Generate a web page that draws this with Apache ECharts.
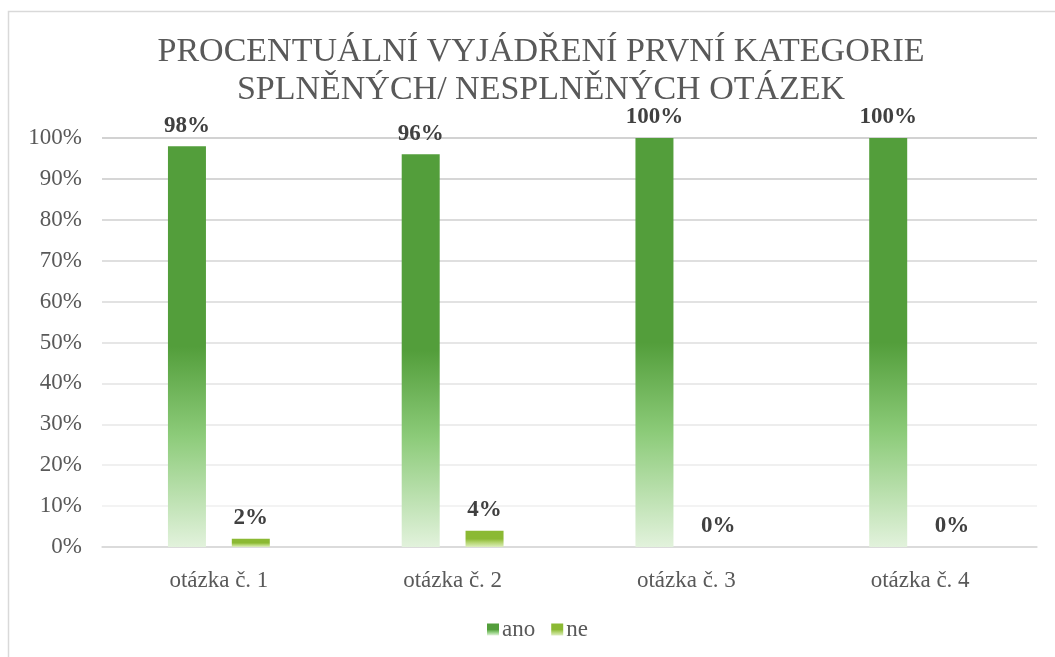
<!DOCTYPE html>
<html>
<head>
<meta charset="utf-8">
<script src="https://cdn.jsdelivr.net/npm/echarts@6/dist/echarts.min.js"></script>
<style>
  html, body { margin: 0; padding: 0; background: #fff; }
  #chart { width: 1055px; height: 657px; }
</style>
</head>
<body>
<div id="chart"></div>
<script>
// data
const categories = ['otázka č. 1', 'otázka č. 2', 'otázka č. 3', 'otázka č. 4'];
const seriesNames = ['ano', 'ne'];
const anoValues = [98, 96, 100, 100];
const neValues = [2, 4, 0, 0];
const yTicks = [0, 10, 20, 30, 40, 50, 60, 70, 80, 90, 100];

const FONT = 'Liberation Serif';

function fade(top, bottom, mid) {
  return new echarts.graphic.LinearGradient(0, 0, 0, 1, [
    { offset: 0, color: top },
    { offset: 0.5, color: top },
    { offset: 0.72, color: mid },
    { offset: 1, color: bottom }
  ]);
}

const chart = echarts.init(document.getElementById('chart'));

const labelStyle = {
  show: true,
  position: 'top',
  distance: 9,
  fontFamily: FONT,
  fontSize: 23,
  fontWeight: 'bold',
  color: '#404040',
  formatter: (p) => p.value + '%'
};

chart.setOption({
  animation: false,
  graphic: [{
    type: 'rect',
    shape: { x: 8.5, y: 11.5, width: 1100, height: 700 },
    style: { fill: 'none', stroke: '#d9d9d9', lineWidth: 1.5 },
    silent: true
  }],
  title: {
    text: 'PROCENTUÁLNÍ VYJÁDŘENÍ PRVNÍ KATEGORIE\nSPLNĚNÝCH/ NESPLNĚNÝCH OTÁZEK',
    left: 536,
    textAlign: 'center',
    top: 28,
    textStyle: {
      fontFamily: FONT,
      fontSize: 34,
      fontWeight: 'normal',
      color: '#595959',
      lineHeight: 38
    }
  },
  legend: {
    data: seriesNames,
    left: 482,
    top: 613,
    itemWidth: 12,
    itemHeight: 12,
    itemGap: 16,
    icon: 'rect',
    textStyle: { fontFamily: FONT, fontSize: 23, color: '#595959', padding: [0, 0, 0, -2] }
  },
  grid: { left: 102, right: 18, top: 138, bottom: 110 },
  xAxis: {
    type: 'category',
    data: categories,
    axisLine: { lineStyle: { color: '#d9d9d9', width: 1.5 } },
    axisTick: { show: false },
    axisLabel: { fontFamily: FONT, fontSize: 23, color: '#595959', margin: 22 }
  },
  yAxis: {
    type: 'value',
    min: yTicks[0],
    max: yTicks[yTicks.length - 1],
    interval: 10,
    axisLine: { show: false },
    axisTick: { show: false },
    axisLabel: {
      fontFamily: FONT, fontSize: 23, color: '#595959', margin: 20,
      formatter: (v) => v + '%'
    },
    splitLine: {
      lineStyle: {
        width: 1.5,
        color: ['#d9d9d9', '#efefef', '#ebebeb', '#e7e7e7', '#e3e3e3', '#dedede',
                '#d9d9d9', '#d4d4d4', '#cfcfcf', '#c9c9c9', '#c3c3c3']
      }
    }
  },
  series: [
    {
      name: seriesNames[0],
      type: 'bar',
      data: anoValues,
      barWidth: 38,
      barGap: '68%',
      itemStyle: { color: fade('#539e3b', '#e2f2dc', '#8ccb79') },
      label: labelStyle
    },
    {
      name: seriesNames[1],
      type: 'bar',
      data: neValues,
      barWidth: 38,
      itemStyle: { color: fade('#8bb933', '#dcedbd', '#b3d46e') },
      label: labelStyle
    }
  ]
});
</script>
</body>
</html>
